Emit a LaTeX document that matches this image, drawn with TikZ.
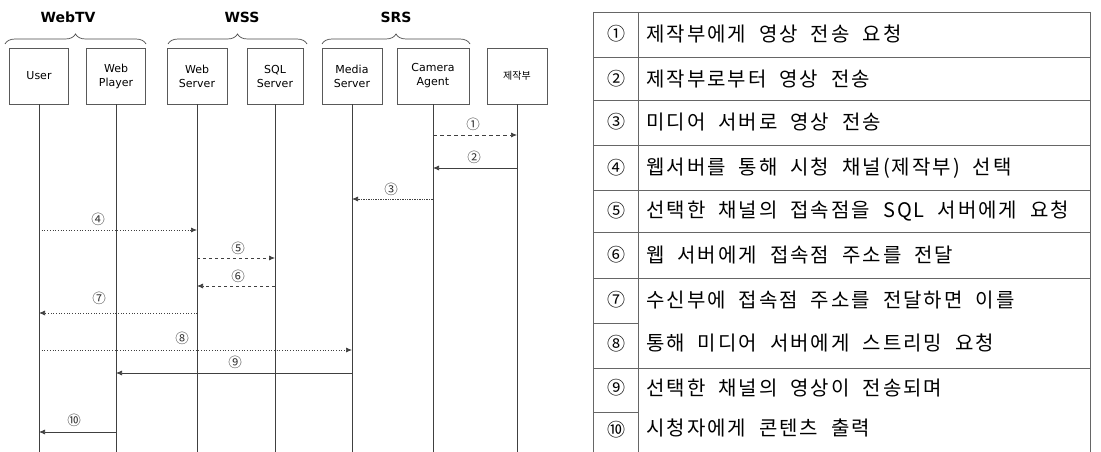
\documentclass[tikz,border=0pt]{standalone}
\usepackage{fontspec}
\setsansfont{DejaVu Sans}
\newfontfamily\kr[LetterSpace=10,WordSpace=2]{Noto Sans CJK KR}
\newfontfamily\krc{Noto Sans CJK KR}
\usetikzlibrary{arrows.meta,decorations.pathreplacing}
\begin{document}
\begin{tikzpicture}[x=1pt,y=-1pt,
  box/.style={draw=black!65, line width=0.7pt, minimum height=56pt, inner sep=0pt,
    align=center, font=\sffamily\fontsize{11}{14}\selectfont},
  life/.style={draw=black!75, line width=0.8pt},
  msg/.style={draw=black!75, line width=0.7pt, -{Latex[length=6pt,width=5pt]}},
  num/.style={font=\krc\fontsize{13.5}{13.5}\selectfont, inner sep=0pt, text=black!80},
  grp/.style={font=\sffamily\bfseries\fontsize{14}{16}\selectfont},
  brc/.style={draw=black!70, line width=0.7pt, decorate, decoration={brace, amplitude=10pt}},
  tline/.style={draw=black!60, line width=0.7pt},
  tnum/.style={font=\krc\fontsize{18}{20}\selectfont, inner sep=0pt},
  ttxt/.style={font=\kr\fontsize{20}{22}\selectfont, anchor=west, inner sep=0pt}
]
\useasboundingbox[fill=white] (0,0) rectangle (1101,452);

% group headers and braces
\node[grp] (hwebtv) at (68,17) {WebTV};
\node[grp] (hwss) at (242,17) {WSS};
\node[grp] (hsrs) at (396,17) {SRS};
\coordinate (b1a) at (5,44);  \coordinate (b1b) at (146,44);
\coordinate (b2a) at (168,44); \coordinate (b2b) at (307,44);
\coordinate (b3a) at (322,44); \coordinate (b3b) at (470,44);
\draw[brc] (b1a) -- (b1b);
\draw[brc] (b2a) -- (b2b);
\draw[brc] (b3a) -- (b3b);

% participants
\node[box, minimum width=59pt] (user) at (39,76) {User};
\node[box, minimum width=59pt] (wp) at (116,76) {Web\\Player};
\node[box, minimum width=60pt] (ws) at (197,76) {Web\\Server};
\node[box, minimum width=56pt] (sql) at (275,76) {SQL\\Server};
\node[box, minimum width=60pt] (ms) at (352,76) {Media\\Server};
\node[box, minimum width=72pt] (ca) at (433,76) {Camera\\Agent};
\node[box, minimum width=60pt, font=\krc\fontsize{10}{11}\selectfont] (jj) at (517,76) {제작부};

% lifelines
\coordinate (bot) at (0,452);
\foreach \p in {user,wp,ws,sql,ms,ca,jj} {
  \draw[life] (\p.south) -- (\p.south |- bot);
}

% messages
\coordinate (m1) at (0,135);
\coordinate (m2) at (0,168);
\coordinate (m3) at (0,199);
\coordinate (m4) at (0,230);
\coordinate (m5) at (0,258);
\coordinate (m6) at (0,286);
\coordinate (m7) at (0,313);
\coordinate (m8) at (0,350);
\coordinate (m9) at (0,373);
\coordinate (m10) at (0,432);

\draw[msg, dash pattern=on 4pt off 3pt] (ca.south |- m1) -- (jj.south |- m1);
\draw[msg] (jj.south |- m2) -- (ca.south |- m2);
\draw[msg, densely dotted] (ca.south |- m3) -- (ms.south |- m3);
\draw[msg, dotted] (user.south |- m4) -- (ws.south |- m4);
\draw[msg, dash pattern=on 3pt off 3pt] (ws.south |- m5) -- (sql.south |- m5);
\draw[msg, dash pattern=on 3pt off 3pt] (sql.south |- m6) -- (ws.south |- m6);
\draw[msg, dotted] (ws.south |- m7) -- (user.south |- m7);
\draw[msg, dotted] (user.south |- m8) -- (ms.south |- m8);
\draw[msg] (ms.south |- m9) -- (wp.south |- m9);
\draw[msg] (wp.south |- m10) -- (user.south |- m10);

\node[num] (l1) at (473,124) {①};
\node[num] (l2) at (474,157) {②};
\node[num] (l3) at (391,189) {③};
\node[num] (l4) at (98,219) {④};
\node[num] (l5) at (238,248) {⑤};
\node[num] (l6) at (238,276) {⑥};
\node[num] (l7) at (99,298) {⑦};
\node[num] (l8) at (182,338) {⑧};
\node[num] (l9) at (235,362) {⑨};
\node[num] (l10) at (74,420) {⑩};

% table
\coordinate (tl) at (593,12);
\coordinate (tr) at (1090,12);
\coordinate (td) at (638,12);
\draw[tline] (tl) -- (tr);
\draw[tline] (tl) -- (tl |- bot);
\draw[tline] (tr) -- (tr |- bot);
\draw[tline] (td) -- (td |- bot);
\foreach \yy in {57,100,145,190,232,278,368} {
  \draw[tline] (593,\yy) -- (1090,\yy);
}
\foreach \yy in {323,412} {
  \draw[tline] (593,\yy) -- (638,\yy);
}

\node[tnum] (n1) at (616,34) {①};
\node[tnum] (n2) at (616,79) {②};
\node[tnum] (n3) at (616,122) {③};
\node[tnum] (n4) at (616,168) {④};
\node[tnum] (n5) at (616,211) {⑤};
\node[tnum] (n6) at (616,255) {⑥};
\node[tnum] (n7) at (616,300) {⑦};
\node[tnum] (n8) at (616,344) {⑧};
\node[tnum] (n9) at (616,388) {⑨};
\node[tnum] (n10) at (616,430) {⑩};

\node[ttxt] (t1) at (646,34) {제작부에게 영상 전송 요청};
\node[ttxt] (t2) at (646,79) {제작부로부터 영상 전송};
\node[ttxt] (t3) at (646,122) {미디어 서버로 영상 전송};
\node[ttxt] (t4) at (646,168) {웹서버를 통해 시청 채널(제작부) 선택};
\node[ttxt] (t5) at (646,211) {선택한 채널의 접속점을 SQL 서버에게 요청};
\node[ttxt] (t6) at (646,255) {웹 서버에게 접속점 주소를 전달};
\node[ttxt] (t7) at (646,300) {수신부에 접속점 주소를 전달하면 이를};
\node[ttxt] (t8) at (646,343) {통해 미디어 서버에게 스트리밍 요청};
\node[ttxt] (t9) at (646,388) {선택한 채널의 영상이 전송되며};
\node[ttxt] (t10) at (646,428) {시청자에게 콘텐츠 출력};
\end{tikzpicture}
\end{document}
